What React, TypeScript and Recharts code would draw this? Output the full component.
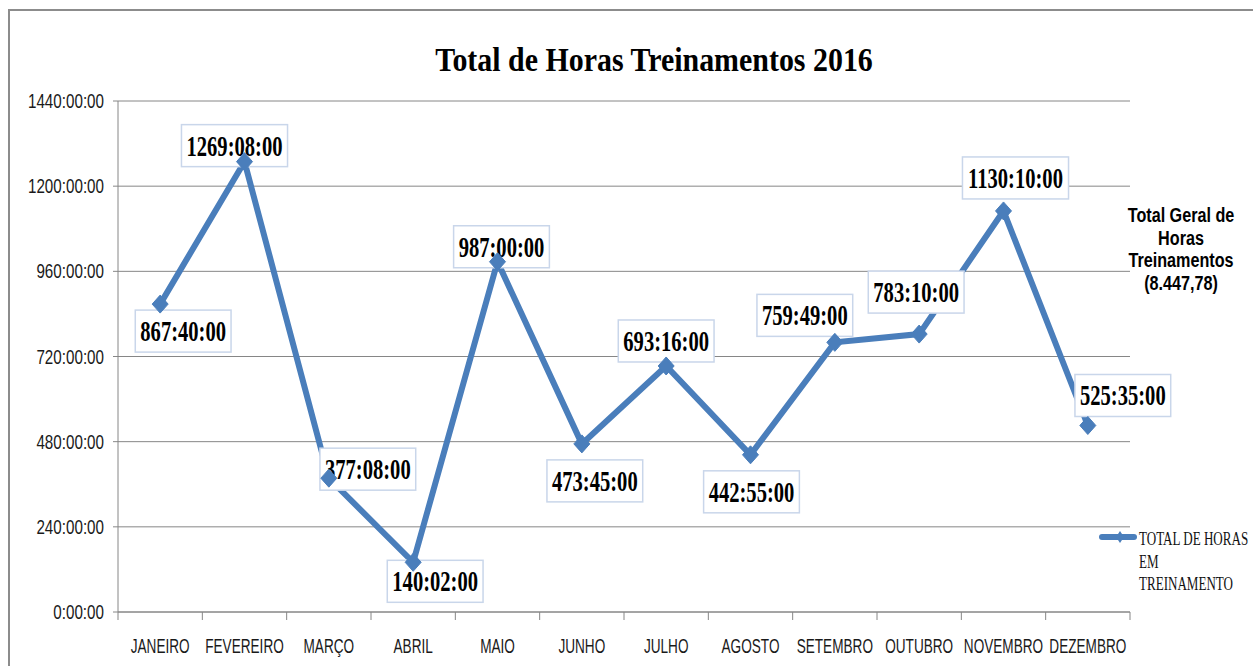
import React from "react";
import { LineChart, Line, XAxis, YAxis, CartesianGrid } from "recharts";

// chart data
const months = [
  "JANEIRO", "FEVEREIRO", "MARÇO", "ABRIL", "MAIO", "JUNHO",
  "JULHO", "AGOSTO", "SETEMBRO", "OUTUBRO", "NOVEMBRO", "DEZEMBRO",
];
// totals as printed on the chart (hhh:mm:ss)
const totals = [
  "867:40:00", "1269:08:00", "377:08:00", "140:02:00", "987:00:00", "473:45:00",
  "693:16:00", "442:55:00", "759:49:00", "783:10:00", "1130:10:00", "525:35:00",
];
const yTicks = [0, 240, 480, 720, 960, 1200, 1440];
const title = "Total de Horas Treinamentos 2016";
const seriesName = ["TOTAL DE HORAS", "EM", "TREINAMENTO"];
const sideNote = ["Total Geral de", "Horas", "Treinamentos", "(8.447,78)"];

// where each data label box sits relative to its point (dx, dy)
const labelShift = [
  [23, 27], [-10, -16], [39, -9], [22, 19], [4, -15], [13, 37],
  [0, -25], [1, 37], [-30, -27], [-3, -42], [12, -33], [35, -30],
];

const BLUE = "#4A7EBB";
const GRID = "#868686";

const toHours = (s: string) => {
  const [h, m, sec] = s.split(":").map(Number);
  return h + m / 60 + sec / 3600;
};

const rows = months.map((m, i) => ({
  x: i + 0.5,
  month: m,
  hours: toHours(totals[i]),
  label: totals[i],
}));

const xTicks = Array.from({ length: months.length * 2 + 1 }, (_, i) => i / 2);

const fmtY = (v: number) => (v === 0 ? "0:00:00" : `${v}:00:00`);

// horizontally squeezed text, the original uses condensed fonts
function Cond(props: {
  x: number;
  y: number;
  sx: number;
  size: number;
  anchor?: "start" | "middle" | "end";
  bold?: boolean;
  family?: string;
  fill?: string;
  children: React.ReactNode;
}) {
  const { x, y, sx, size, anchor = "middle", bold, family = "Liberation Sans", fill = "#1a1a1a", children } = props;
  return (
    <text
      transform={`translate(${x},${y}) scale(${sx},1)`}
      textAnchor={anchor}
      fontSize={size}
      fontWeight={bold ? "bold" : "normal"}
      fontFamily={family}
      fill={fill}
    >
      {children}
    </text>
  );
}

function XTick(props: any) {
  const { x, y, payload } = props;
  const v = payload.value as number;
  if (Number.isInteger(v)) {
    return <line x1={x} x2={x} y1={y} y2={y + 8} stroke={GRID} strokeWidth={1} />;
  }
  return (
    <Cond x={x} y={y + 41} sx={0.68} size={20}>
      {months[Math.floor(v)]}
    </Cond>
  );
}

function YTick(props: any) {
  const { x, y, payload } = props;
  return (
    <Cond x={x - 9} y={y + 7} sx={0.76} size={20} anchor="end">
      {fmtY(payload.value)}
    </Cond>
  );
}

function Diamond(props: any) {
  const { cx, cy } = props;
  if (cx == null || cy == null) return null;
  return (
    <polygon
      points={`${cx},${cy - 9} ${cx + 8},${cy} ${cx},${cy + 9} ${cx - 8},${cy}`}
      fill={BLUE}
      stroke={BLUE}
      strokeWidth={1}
    />
  );
}

// label box drawn as the dot of a stroke-less line, so the real line sits above it
function LabelDot(props: any) {
  const { cx, cy, index, payload } = props;
  if (cx == null || cy == null) return null;
  const [dx, dy] = labelShift[index] || [0, -20];
  const x = cx + dx;
  const y = cy + dy;
  const s = String(payload.label);
  const colons = s.split(":").length - 1;
  const em = (s.length - colons) * 0.5 + colons * 0.333;
  const w = em * 29 * 0.71 + 10;
  const h = 42;
  return (
    <g>
      <rect x={x - w / 2} y={y - h / 2} width={w} height={h} fill="#fff" stroke="#c9d6ea" strokeWidth={1.5} />
      <Cond x={x} y={y + 10} sx={0.71} size={29} bold family="Liberation Serif" fill="#000">
        {s}
      </Cond>
    </g>
  );
}

export default function App() {
  return (
    <div
      style={{
        position: "absolute",
        left: 0,
        top: 0,
        width: 1253,
        height: 666,
        overflow: "hidden",
        background: "#fff",
      }}
    >
      <div
        style={{
          position: "absolute",
          left: 8,
          top: 9,
          width: 1245,
          height: 657,
          borderTop: "2px solid #8c8c8c",
          borderLeft: "2px solid #8c8c8c",
          boxSizing: "border-box",
        }}
      />
      <LineChart width={1253} height={666} data={rows} margin={{ top: 101, right: 123, bottom: 0, left: 0 }}>
        <CartesianGrid vertical={false} stroke={GRID} strokeWidth={1} />
        <XAxis
          dataKey="x"
          type="number"
          domain={[0, months.length]}
          ticks={xTicks}
          interval={0}
          height={54}
          tickLine={false}
          tickSize={0}
          tickMargin={0}
          axisLine={{ stroke: GRID }}
          tick={<XTick />}
        />
        <YAxis
          domain={[0, 1440]}
          ticks={yTicks}
          interval={0}
          width={118}
          tickSize={5}
          tickMargin={0}
          tickLine={{ stroke: GRID }}
          axisLine={{ stroke: GRID }}
          tick={<YTick />}
        />
        <Line
          dataKey="hours"
          stroke="none"
          dot={<LabelDot />}
          activeDot={false}
          legendType="none"
          isAnimationActive={false}
        />
        <Line
          dataKey="hours"
          name={seriesName.join(" ")}
          stroke={BLUE}
          strokeWidth={6}
          strokeLinejoin="miter"
          dot={<Diamond />}
          activeDot={false}
          isAnimationActive={false}
        />
      </LineChart>
      <svg
        width={1253}
        height={666}
        style={{ position: "absolute", left: 0, top: 0, pointerEvents: "none" }}
      >
        <Cond x={654} y={71} sx={0.88} size={34} bold family="Liberation Serif" fill="#000">
          {title}
        </Cond>
        {sideNote.map((t, i) => (
          <Cond key={t} x={1181} y={222 + i * 22.7} sx={0.77} size={21} bold fill="#000">
            {t}
          </Cond>
        ))}
        {/* legend */}
        <line x1={1102} x2={1134} y1={537} y2={537} stroke={BLUE} strokeWidth={6} strokeLinecap="round" />
        <polygon points="1120,531 1124,537 1120,543 1116,537" fill={BLUE} />
        {seriesName.map((t, i) => (
          <Cond key={t} x={1139} y={545 + i * 22.5} sx={0.67} size={19.5} anchor="start" family="Liberation Serif" fill="#111">
            {t}
          </Cond>
        ))}
      </svg>
    </div>
  );
}
